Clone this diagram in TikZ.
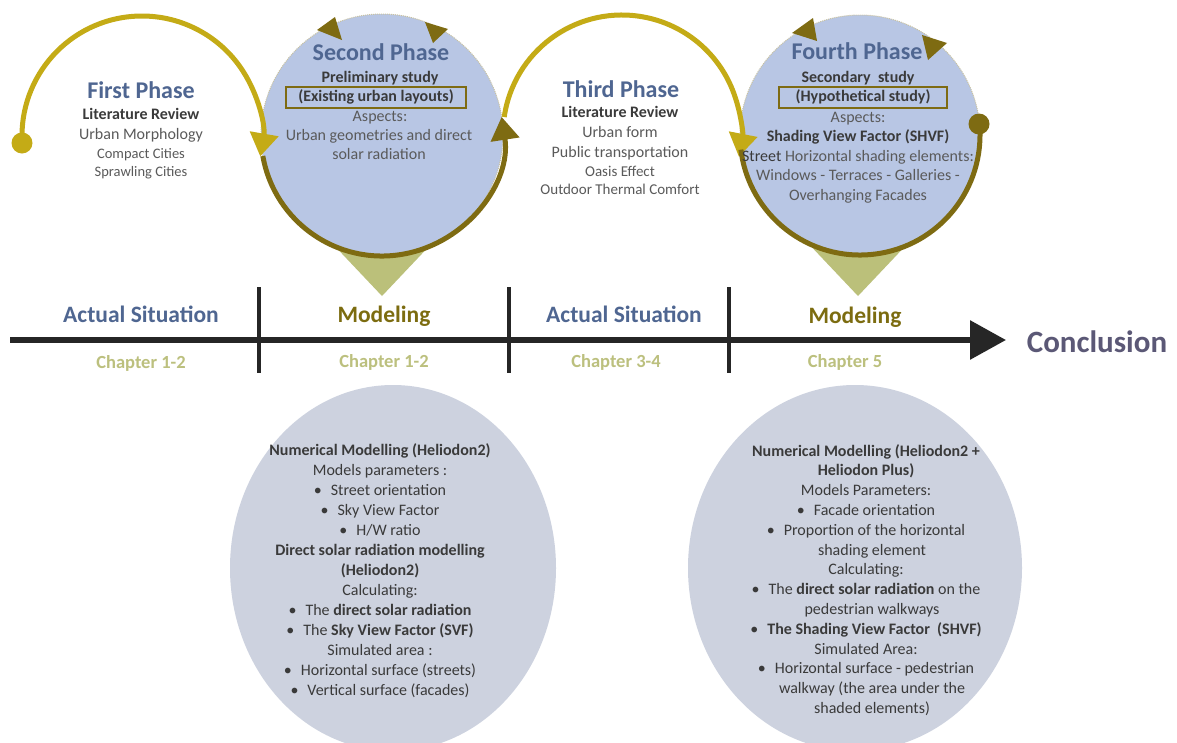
\documentclass[tikz,border=0pt]{standalone}
\usepackage{fontspec}
\setmainfont{Carlito}
\usetikzlibrary{arrows.meta,calc}

\definecolor{phblue}{HTML}{4F6691}
\definecolor{phgold}{HTML}{C4AB16}
\definecolor{phdark}{HTML}{7E6B12}
\definecolor{modcol}{HTML}{7C6C10}
\definecolor{chapcol}{HTML}{BCC07E}
\definecolor{conclcol}{HTML}{5B5876}
\definecolor{circfill}{HTML}{B8C6E4}
\definecolor{ellfill}{HTML}{CDD2DF}
\definecolor{pointer}{HTML}{BBC07A}
\definecolor{rimcol}{HTML}{C9C2A0}
\definecolor{axiscol}{HTML}{262626}
\definecolor{txtgray}{HTML}{5A5A5A}
\definecolor{txtdark}{HTML}{3A3A3A}

\newcommand{\itemdot}{\textbullet\hspace{9pt}}

\begin{document}
\begin{tikzpicture}[x=1pt,y=-1pt,
  every node/.style={inner sep=0pt,outer sep=0pt},
  phtitle/.style={font=\fontsize{24}{28}\selectfont\bfseries,text=phblue,anchor=base},
  axlabel/.style={font=\fontsize{23.5}{28}\selectfont\bfseries,anchor=base},
  chap/.style={font=\fontsize{18.5}{22}\selectfont\bfseries,text=chapcol,anchor=base},
  hd/.style={font=\fontsize{16}{20}\selectfont\bfseries,text=txtdark,anchor=base},
  bd/.style={font=\fontsize{16}{20}\selectfont,text=txtgray,anchor=base},
  md/.style={font=\fontsize{15}{19}\selectfont,text=txtgray,anchor=base},
  sm/.style={font=\fontsize{14.5}{18}\selectfont,text=txtgray,anchor=base},
  el/.style={font=\fontsize{16}{20}\selectfont,text=txtdark,anchor=base},
  boxed/.style={draw=phdark,line width=1.2pt,font=\fontsize{16}{20}\selectfont\bfseries,
    text=txtdark,text height=12pt,text depth=4pt},
  goldflow/.style={draw=phgold,line width=5pt},
  darkflow/.style={draw=phdark,line width=5pt},
  rim/.style={draw=rimcol,line width=1pt,densely dotted},
  bigtip/.style={-{Triangle[width=28pt,length=23pt]}},
]
\useasboundingbox[fill=white] (0,0) rectangle (1177,742);

% centres of the four phase loops
\coordinate (c1) at (142,136);
\coordinate (c2) at (382,135);
\coordinate (c3) at (622,134);
\coordinate (c4) at (860,135);

% detail discs below the axis
\fill[ellfill] (393,568) ellipse[x radius=163pt,y radius=183pt];
\fill[ellfill] (855,568) ellipse[x radius=167pt,y radius=183pt];

% pointers under the study circles
\fill[pointer] (329,240) -- (435,240) -- (382,296) -- cycle;
\fill[pointer] (805,240) -- (911,240) -- (858,296) -- cycle;

% study circles
\fill[circfill] (c2) circle[radius=121pt];
\draw[rim] (c2) circle[radius=121pt];
\fill[circfill] (c4) circle[radius=120pt];
\draw[rim] (c4) circle[radius=120pt];

% small arrowheads on the top of the circles
\fill[phdark] (317,30) -- (335,17) -- (342,40) -- cycle;
\fill[phdark] (425,22) -- (448,29) -- (433,43) -- cycle;
\fill[phdark] (792,33) -- (813,18) -- (817,41) -- cycle;
\fill[phdark] (922,35) -- (947,43) -- (928,60) -- cycle;

% phase flow
\fill[phgold] (22,143) circle[radius=10.5pt];
\draw[goldflow,bigtip] ($(c1)+(183:120pt)$) arc[start angle=183,end angle=-9.8,radius=120pt];
\draw[darkflow,bigtip] ($(c2)+(190:121pt)$) arc[start angle=190,end angle=368.6,radius=121pt];
\draw[goldflow,bigtip] ($(c3)+(171.8:119pt)$) arc[start angle=171.8,end angle=-11,radius=119pt];
\draw[darkflow] ($(c4)+(187:120pt)$) arc[start angle=187,end angle=365.3,radius=120pt];
\fill[phdark] (979,124) circle[radius=10.5pt];

% first phase
\node[phtitle] (t1) at (141,98) {First Phase};
\node[hd] (t1a) at (141,119) {Literature Review};
\node[bd] (t1b) at (141,139) {Urban Morphology};
\node[sm] (t1c) at (141,158) {Compact Cities};
\node[sm] (t1d) at (141,176) {Sprawling Cities};

% second phase
\node[phtitle] (t2) at (381,60) {Second Phase};
\node[hd] (t2a) at (380,82) {Preliminary study};
\node[boxed,minimum width=180pt,minimum height=21pt] (t2b) at (376,97.5) {(Existing urban layouts)};
\node[bd] (t2c) at (380,121) {Aspects:};
\node[bd] (t2d) at (379,140) {Urban geometries and direct};
\node[bd] (t2e) at (379,159) {solar radiation};

% third phase
\node[phtitle] (t3) at (621,97) {Third Phase};
\node[hd] (t3a) at (620,117) {Literature Review};
\node[bd] (t3b) at (620,137) {Urban form};
\node[bd] (t3c) at (620,157) {Public transportation};
\node[md] (t3d) at (620,176) {Oasis Effect};
\node[md] (t3e) at (620,194) {Outdoor Thermal Comfort};

% fourth phase
\node[phtitle] (t4) at (857,59) {Fourth Phase};
\node[hd] (t4a) at (858,82) {Secondary\ \ study};
\node[boxed,minimum width=168pt,minimum height=21pt] (t4b) at (863,97.5) {(Hypothetical study)};
\node[bd] (t4c) at (858,122) {Aspects:};
\node[hd] (t4d) at (858,141) {Shading View Factor (SHVF)};
\node[bd] (t4e) at (858,161) {\textcolor{txtdark}{Street} Horizontal shading elements:};
\node[bd] (t4f) at (858,180) {Windows - Terraces - Galleries -};
\node[bd] (t4g) at (858,200) {Overhanging Facades};

% time axis
\coordinate (axstart) at (10,340);
\coordinate (axend) at (1006,340);
\draw[axiscol,line width=6pt,-{Triangle[width=38pt,length=36pt]}] (axstart) -- (axend);
\foreach \xx in {259,509,729}
  \draw[axiscol,line width=4pt] (\xx,287) -- (\xx,373);

\node[axlabel,text=phblue] (a1) at (141,322) {Actual Situation};
\node[axlabel,text=modcol] (a2) at (384,322) {Modeling};
\node[axlabel,text=phblue] (a3) at (624,322) {Actual Situation};
\node[axlabel,text=modcol] (a4) at (855,323) {Modeling};
\node[chap] (ch1) at (141,368) {Chapter 1-2};
\node[chap] (ch2) at (384,367) {Chapter 1-2};
\node[chap] (ch3) at (616,367) {Chapter 3-4};
\node[chap] (ch4) at (845,367) {Chapter 5};
\node[font=\fontsize{31}{36}\selectfont\bfseries,text=conclcol,anchor=base] (concl) at (1097,352) {Conclusion};

% modelling details, second phase
\foreach \lt [count=\i] in {
  {\textbf{Numerical Modelling (Heliodon2)}},
  {Models parameters :},
  {\itemdot Street orientation},
  {\itemdot Sky View Factor},
  {\itemdot H/W ratio},
  {\textbf{Direct solar radiation modelling}},
  {\textbf{(Heliodon2)}},
  {Calculating:},
  {\itemdot The \textbf{direct solar radiation}},
  {\itemdot The \textbf{Sky View Factor (SVF)}},
  {Simulated area :},
  {\itemdot Horizontal surface (streets)},
  {\itemdot Vertical surface (facades)}}
  \node[el] (m\i) at (380,{455+20*(\i-1)}) {\lt};

% modelling details, fourth phase
\foreach \lt [count=\i] in {
  {\textbf{Numerical Modelling (Heliodon2 +}},
  {\textbf{Heliodon Plus)}},
  {Models Parameters:},
  {\itemdot Facade orientation},
  {\itemdot Proportion of the horizontal},
  {\hspace{12pt}shading element},
  {Calculating:},
  {\itemdot The \textbf{direct solar radiation} on the},
  {\hspace{12pt}pedestrian walkways},
  {\itemdot \textbf{The Shading View Factor\ \ (SHVF)}},
  {Simulated Area:},
  {\itemdot Horizontal surface - pedestrian},
  {\hspace{12pt}walkway (the area under the},
  {\hspace{12pt}shaded elements)}}
  \node[el] (n\i) at (866,{456+19.8*(\i-1)}) {\lt};
\end{tikzpicture}
\end{document}
